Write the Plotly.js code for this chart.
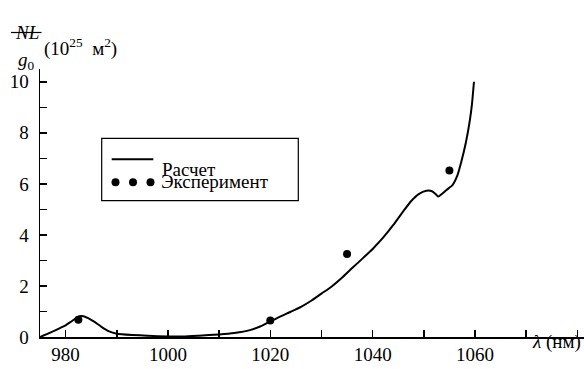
<!DOCTYPE html>
<html>
<head>
<meta charset="utf-8">
<script src="https://cdn.plot.ly/plotly-3.0.1.min.js"></script>
<style>html,body{margin:0;padding:0;background:#fff;}</style>
</head>
<body>
<div id="chart" style="width:584px;height:369px;"></div>
<script>
// Calculated curve (Расчет)
const calcWavelength = [975, 977, 979, 980, 981, 982, 982.7, 983.5, 984.5, 985.5, 987, 988.5, 990, 993, 996, 1000, 1003, 1006, 1010, 1013, 1016, 1018, 1020, 1022, 1024, 1026, 1028, 1030, 1032, 1034, 1036, 1038, 1040, 1042, 1044, 1046, 1047.5, 1049, 1050.5, 1051.5, 1052.3, 1052.8, 1053.5, 1054.5, 1055.6, 1056.5, 1057.3, 1058.2, 1059, 1059.4, 1059.8];
const calcValue = [0, 0.17, 0.36, 0.46, 0.59, 0.73, 0.81, 0.81, 0.73, 0.61, 0.4, 0.22, 0.13, 0.08, 0.05, 0.02, 0.02, 0.05, 0.1, 0.16, 0.27, 0.41, 0.61, 0.81, 0.99, 1.18, 1.42, 1.7, 1.98, 2.32, 2.7, 3.07, 3.45, 3.88, 4.38, 4.93, 5.32, 5.6, 5.73, 5.72, 5.6, 5.5, 5.6, 5.77, 5.95, 6.3, 6.85, 7.6, 8.5, 9.1, 10.0];
// Experimental points (Эксперимент)
const expWavelength = [982.5, 1020, 1035, 1055];
const expValue = [0.68, 0.65, 3.25, 6.52];
// Axis ticks
const xTickVals = [980, 1000, 1020, 1040, 1060];
const xTickText = ['980', '1000', '1020', '1040', '1060'];
const yTickVals = [0, 2, 4, 6, 8, 10];
const yTickText = ['0', '2', '4', '6', '8', '10'];
const legendNames = ['Расчет', 'Эксперимент'];

const M = {l: 40, r: 0, t: 69, b: 32};
const W = 584, H = 369;
const pw = W - M.l - M.r, ph = H - M.t - M.b;
const px = v => (v - M.l) / pw;
const py = v => (H - M.b - v) / ph;

const FAM = 'Liberation Serif';

const traces = [
  {x: calcWavelength, y: calcValue, mode: 'lines', line: {color: '#000', width: 2, shape: 'spline', smoothing: 0.5}, name: legendNames[0], showlegend: false, hoverinfo: 'skip'},
  {x: expWavelength, y: expValue, mode: 'markers', marker: {color: '#000', size: 8}, name: legendNames[1], showlegend: false, hoverinfo: 'skip'}
];

const dotR = 4;
const circ = (cx, cy) => ({type: 'circle', xref: 'paper', yref: 'paper', x0: px(cx - dotR), x1: px(cx + dotR), y0: py(cy + dotR), y1: py(cy - dotR), fillcolor: '#000', line: {width: 0}});
const ann = (x, y, xa, text) => ({xref: 'paper', yref: 'paper', x: px(x), y: py(y), xanchor: xa, text: text, showarrow: false, font: {family: FAM, size: 19, color: '#000'}});

const layout = {
  width: W, height: H,
  margin: M,
  font: {family: FAM, size: 19, color: '#000'},
  showlegend: false,
  xaxis: {range: [975, 1081.3], tickvals: xTickVals, ticktext: xTickText, ticks: 'inside', ticklen: 7, tickwidth: 1.5, tickcolor: '#000',
          minor: {dtick: 10, tick0: 980, ticks: 'inside', ticklen: 7, tickwidth: 1.5, tickcolor: '#000', showgrid: false},
          showline: true, linecolor: '#000', linewidth: 1.5, showgrid: false, zeroline: false,
          tickfont: {family: FAM, size: 19, color: '#000'}},
  yaxis: {range: [0, 10.5], tickvals: yTickVals, ticktext: yTickText, ticks: 'inside', ticklen: 7, tickwidth: 1.5, tickcolor: '#000',
          minor: {dtick: 1, tick0: 0, ticks: 'inside', ticklen: 7, tickwidth: 1.5, tickcolor: '#000', showgrid: false},
          showline: true, linecolor: '#000', linewidth: 1.5, showgrid: false, zeroline: false,
          tickfont: {family: FAM, size: 19, color: '#000'}, ticklabelstandoff: 6},
  shapes: [
    {type: 'line', xref: 'paper', yref: 'paper', x0: px(11), x1: px(41.5), y0: py(32.5), y1: py(32.5), line: {color: '#000', width: 1.2}},
    {type: 'rect', xref: 'paper', yref: 'paper', x0: px(101.7), x1: px(298.3), y0: py(200.7), y1: py(138.3), line: {color: '#000', width: 1.2}, fillcolor: '#fff', layer: 'below'},
    {type: 'line', xref: 'paper', yref: 'paper', x0: px(111.7), x1: px(153.3), y0: py(159.3), y1: py(159.3), line: {color: '#000', width: 2}},
    circ(115.5, 182.3), circ(133, 182.3), circ(150.5, 182.3)
  ],
  annotations: [
    ann(26.5, 20, 'center', '<i>NL</i>'),
    ann(26.5, 47, 'center', '<i>g</i><sub>0</sub>'),
    ann(42, 33, 'left', '(10<sup>25</sup>  м<sup>2</sup>)'),
    ann(583, 355, 'right', '<i>λ</i> (нм)'),
    ann(160, 156.7, 'left', legendNames[0]),
    ann(159, 181.7, 'left', legendNames[1])
  ]
};

Plotly.newPlot('chart', traces, layout, {staticPlot: true});
</script>
</body>
</html>
